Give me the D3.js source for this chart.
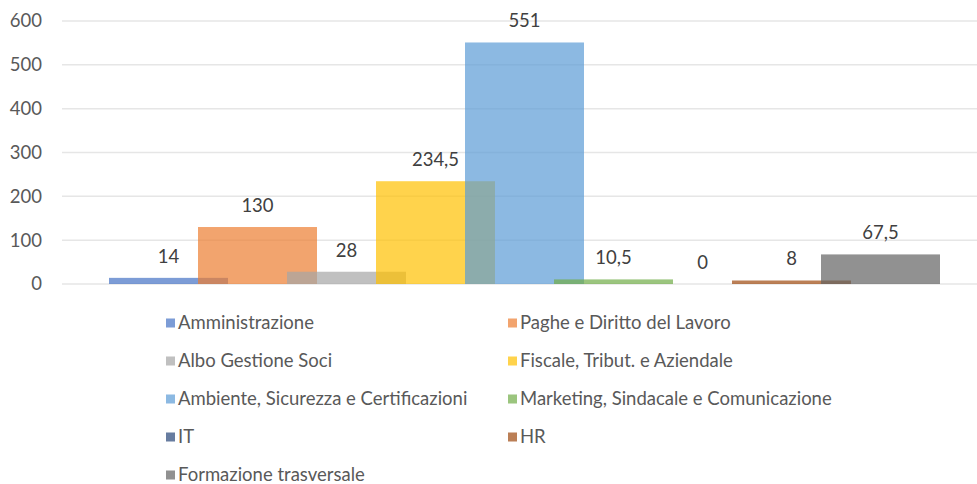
<meta charset="utf-8">
<style>
body { margin: 0; background: #fff; }
text { font-family: Lato, "Open Sans", sans-serif; }
</style>
<body>
<script src="https://cdn.jsdelivr.net/npm/d3@7"></script>
<script>
// one category, nine series (Excel style clustered bars with overlap)
var series = ["Amministrazione", "Paghe e Diritto del Lavoro", "Albo Gestione Soci",
  "Fiscale, Tribut. e Aziendale", "Ambiente, Sicurezza e Certificazioni",
  "Marketing, Sindacale e Comunicazione", "IT", "HR", "Formazione trasversale"];
var values = [14, 130, 28, 234.5, 551, 10.5, 0, 8, 67.5];
var labels = ["14", "130", "28", "234,5", "551", "10,5", "0", "8", "67,5"];
var colors = ["#4472C4", "#ED7D31", "#A5A5A5", "#FFC000", "#5B9BD5",
  "#70AD47", "#264478", "#9E480E", "#636363"];
var yTicks = [0, 100, 200, 300, 400, 500, 600];

var width = 977, height = 484;

var svg = d3.select("body").append("svg")
    .attr("width", width)
    .attr("height", height);

var y = d3.scaleLinear().domain([0, 600]).range([284, 21]);

// each series gets a slot of 89px but bars are 119px wide, so they overlap
var x = d3.scaleBand().domain(series).range([109, 910]).padding(0);
var barW = x.bandwidth() * 1.337;

// gridlines
svg.append("g")
  .selectAll("line")
  .data(yTicks)
  .enter().append("line")
    .attr("x1", 62)
    .attr("x2", width)
    .attr("y1", function(d) { return y(d); })
    .attr("y2", function(d) { return y(d); })
    .attr("stroke", "#E6E6E6")
    .attr("stroke-width", 1.5);

// y axis labels
var yAxis = svg.append("g")
    .attr("transform", "translate(42,0)")
    .call(d3.axisLeft(y).tickValues(yTicks).tickSize(0).tickPadding(0));
yAxis.select(".domain").remove();
yAxis.selectAll("text")
    .style("font-family", "Lato, sans-serif")
    .style("font-size", "18.5px")
    .attr("fill", "#595959");

// bars
svg.selectAll(".bar")
    .data(values)
  .enter().append("rect")
    .attr("class", "bar")
    .attr("x", function(d, i) { return x(series[i]); })
    .attr("width", barW)
    .attr("y", function(d) { return y(d); })
    .attr("height", function(d) { return y(0) - y(d); })
    .attr("fill", function(d, i) { return colors[i]; })
    .attr("fill-opacity", 0.7);

// data labels
svg.selectAll(".lbl")
    .data(values)
  .enter().append("text")
    .attr("class", "lbl")
    .attr("x", function(d, i) { return x(series[i]) + barW / 2; })
    .attr("y", function(d) { return y(d) - 15; })
    .attr("text-anchor", "middle")
    .style("font-size", "18.5px")
    .attr("fill", "#404040")
    .text(function(d, i) { return labels[i]; });

// legend, two columns
var legend = svg.selectAll(".leg")
    .data(series)
  .enter().append("g")
    .attr("class", "leg")
    .attr("transform", function(d, i) {
      return "translate(" + (i % 2 === 0 ? 166 : 508) + "," + (323 + Math.floor(i / 2) * 38) + ")";
    });

legend.append("rect")
    .attr("x", 0)
    .attr("y", -4.5)
    .attr("width", 9)
    .attr("height", 9)
    .attr("fill", function(d, i) { return colors[i]; })
    .attr("fill-opacity", 0.7);

legend.append("text")
    .attr("x", 12)
    .attr("y", 0)
    .attr("dy", "0.35em")
    .style("font-size", "18.5px")
    .attr("fill", "#595959")
    .text(function(d) { return d; });
</script>
</body>
